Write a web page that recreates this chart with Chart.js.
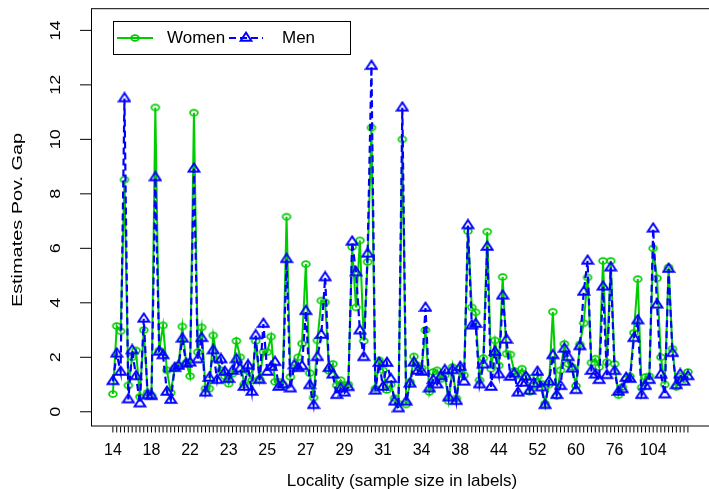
<!DOCTYPE html>
<html>
<head>
<meta charset="utf-8">
<script src="https://cdn.jsdelivr.net/npm/chart.js@4.4.1/dist/chart.umd.min.js"></script>
<style>
  html, body { margin: 0; padding: 0; background: #fff; overflow: hidden; }
  #wrap { width: 720px; height: 489px; }
</style>
</head>
<body>
<div id="wrap"><canvas id="myChart" width="720" height="489"></canvas></div>
<script>
// sample size labels, shown on every 10th locality
const localityLabels = ['14', '18', '22', '23', '25', '27', '29', '31', '34', '38', '44', '52', '60', '76', '104'];
const labelEvery = 10;
const yTicks = [0, 2, 4, 6, 8, 10, 12, 14];

const women = [0.65, 3.15, 2.96, 8.52, 0.97, 2.0, 2.25, 0.55, 3.0, 0.7,
  0.6, 11.17, 2.25, 3.17, 1.52, 0.7, 1.6, 1.7, 3.13, 1.8,
  1.31, 10.98, 2.19, 3.1, 0.85, 0.85, 2.8, 1.9, 1.52, 1.3,
  1.03, 1.4, 2.6, 2.0, 1.0, 1.5, 1.15, 2.6, 1.2, 2.19,
  2.19, 2.76, 1.1, 1.1, 1.0, 7.16, 1.28, 1.6, 2.0, 2.5,
  5.42, 1.42, 0.52, 2.62, 4.08, 4.02, 1.5, 1.76, 0.97, 1.16,
  0.97, 1.0, 6.05, 3.83, 6.29, 2.6, 5.5, 10.43, 0.85, 1.89,
  1.52, 0.8, 1.0, 0.5, 0.3, 10.0, 0.27, 1.1, 2.03, 1.7,
  1.6, 3.0, 0.73, 1.46, 1.52, 1.2, 1.34, 0.39, 1.64, 0.49,
  1.58, 1.34, 6.63, 3.83, 3.65, 1.16, 1.97, 6.61, 1.58, 2.62,
  1.7, 4.95, 2.13, 2.1, 1.5, 1.34, 1.58, 1.3, 0.73, 0.97,
  1.28, 1.03, 0.3, 1.0, 3.67, 0.58, 1.52, 2.49, 1.76, 1.64,
  0.95, 2.47, 3.25, 4.93, 1.8, 1.95, 1.64, 5.54, 1.82, 5.54,
  1.76, 0.61, 0.91, 1.2, 1.3, 2.9, 4.87, 0.89, 1.28, 1.3,
  6.0, 4.9, 2.0, 1.0, 5.3, 2.31, 0.91, 1.3, 1.2, 1.46];

const men = [1.12, 2.13, 1.46, 11.5, 0.45, 2.25, 1.3, 0.3, 3.41, 0.6,
  0.57, 8.6, 2.2, 2.07, 0.73, 0.43, 1.6, 1.68, 2.68, 1.76,
  1.8, 8.92, 1.92, 2.7, 0.7, 1.24, 2.25, 1.16, 1.92, 1.46,
  1.2, 1.5, 1.92, 1.58, 0.91, 1.7, 0.73, 2.8, 1.16, 3.22,
  1.46, 1.64, 1.82, 0.91, 1.0, 5.6, 0.85, 1.7, 1.6, 1.67,
  3.69, 0.97, 0.24, 2.0, 2.82, 4.93, 1.6, 1.36, 0.61, 0.85,
  0.7, 0.9, 6.24, 5.11, 2.98, 2.0, 5.8, 12.69, 0.77, 1.79,
  0.91, 1.79, 1.2, 0.37, 0.12, 11.16, 0.37, 1.03, 1.8, 1.5,
  1.46, 3.81, 0.85, 1.16, 1.0, 1.3, 1.52, 0.52, 1.52, 0.39,
  1.64, 1.1, 6.84, 3.16, 3.22, 1.0, 1.73, 6.05, 0.91, 2.19,
  1.37, 4.26, 2.64, 1.28, 1.4, 0.7, 1.06, 1.28, 0.77, 1.03,
  1.46, 0.89, 0.24, 1.1, 2.07, 0.61, 0.94, 2.31, 2.0, 1.58,
  0.79, 2.4, 4.4, 5.54, 1.5, 1.36, 1.16, 4.59, 1.34, 5.29,
  1.49, 0.73, 0.82, 1.24, 1.2, 2.7, 3.35, 0.61, 0.94, 1.16,
  6.72, 3.93, 1.36, 0.63, 5.24, 2.15, 0.97, 1.37, 1.1, 1.3];

const GREEN = '#00cd00';
const BLUE = '#0000ff';
const FONT = '"Liberation Sans", Arial, Helvetica, sans-serif';

// open marker images (R pch 1 / pch 2 look)
function circleMarker(color) {
  const c = document.createElement('canvas');
  c.width = 12; c.height = 10;
  const g = c.getContext('2d');
  g.strokeStyle = color;
  g.lineWidth = 1.7;
  g.beginPath();
  g.ellipse(6, 5, 3.9, 2.9, 0, 0, Math.PI * 2);
  g.stroke();
  return c;
}

function triangleMarker(color) {
  const c = document.createElement('canvas');
  c.width = 14; c.height = 14;
  const g = c.getContext('2d');
  g.strokeStyle = color;
  g.lineWidth = 1.9;
  g.beginPath();
  g.moveTo(7, 1.6);
  g.lineTo(12.4, 9.7);
  g.lineTo(1.6, 9.7);
  g.closePath();
  g.stroke();
  return c;
}

const circ = circleMarker(GREEN);
const tri = triangleMarker(BLUE);

const rAxes = {
  id: 'rAxes',
  afterDraw(chart) {
    const ctx = chart.ctx;
    const xs = chart.scales.x;
    const ys = chart.scales.y;
    const a = chart.chartArea;
    ctx.save();
    ctx.strokeStyle = '#000';
    ctx.fillStyle = '#000';
    ctx.lineWidth = 1;

    // box
    ctx.strokeRect(a.left + 0.5, a.top + 0.5, a.right - a.left, a.bottom - a.top);

    // x ticks, one per locality
    ctx.beginPath();
    for (let i = 1; i <= women.length; i++) {
      const px = xs.getPixelForValue(i);
      ctx.moveTo(px, a.bottom + 1);
      ctx.lineTo(px, a.bottom + 7);
    }
    ctx.stroke();

    ctx.font = '16px ' + FONT;
    ctx.textAlign = 'center';
    ctx.textBaseline = 'middle';
    localityLabels.forEach((lab, k) => {
      ctx.fillText(lab, xs.getPixelForValue(1 + k * labelEvery), 451);
    });

    // y ticks
    ctx.beginPath();
    yTicks.forEach(v => {
      const py = ys.getPixelForValue(v);
      ctx.moveTo(80, py);
      ctx.lineTo(a.left, py);
    });
    ctx.stroke();

    ctx.font = '15px ' + FONT;
    yTicks.forEach(v => {
      const py = ys.getPixelForValue(v);
      ctx.save();
      ctx.translate(56, py);
      ctx.rotate(-Math.PI / 2);
      ctx.scale(1.2, 1);
      ctx.fillText(String(v), 0, 0);
      ctx.restore();
    });

    // axis titles
    ctx.save();
    ctx.font = '14px ' + FONT;
    ctx.translate(18, 220);
    ctx.rotate(-Math.PI / 2);
    ctx.scale(1.42, 1);
    ctx.fillText('Estimates Pov. Gap', 0, 0);
    ctx.restore();

    ctx.font = '17px ' + FONT;
    ctx.fillText('Locality (sample size in labels)', 402, 481);

    // legend
    ctx.fillStyle = '#fff';
    ctx.fillRect(113.5, 21.5, 237, 33);
    ctx.strokeStyle = '#000';
    ctx.strokeRect(113.5, 21.5, 237, 33);

    ctx.lineWidth = 2;
    ctx.strokeStyle = GREEN;
    ctx.beginPath();
    ctx.moveTo(117, 38);
    ctx.lineTo(153, 38);
    ctx.stroke();
    ctx.drawImage(circ, 135 - 6, 38 - 5);

    ctx.strokeStyle = BLUE;
    ctx.lineWidth = 2.2;
    ctx.setLineDash([7, 4]);
    ctx.beginPath();
    ctx.moveTo(229, 38);
    ctx.lineTo(263, 38);
    ctx.stroke();
    ctx.setLineDash([]);
    ctx.drawImage(tri, 246 - 7, 38 - 7);

    ctx.fillStyle = '#000';
    ctx.font = '17px ' + FONT;
    ctx.textAlign = 'left';
    ctx.fillText('Women', 167, 38);
    ctx.fillText('Men', 282, 38);
    ctx.restore();
  }
};

const ctx = document.getElementById('myChart');

new Chart(ctx, {
  type: 'line',
  data: {
    datasets: [{
      label: 'Women',
      data: women.map((v, i) => ({ x: i + 1, y: v })),
      borderColor: GREEN,
      borderWidth: 2,
      pointStyle: circ,
      pointRadius: 5,
      tension: 0,
      order: 2
    }, {
      label: 'Men',
      data: men.map((v, i) => ({ x: i + 1, y: v })),
      borderColor: BLUE,
      borderWidth: 2.2,
      borderDash: [7, 4],
      pointStyle: tri,
      pointRadius: 6,
      tension: 0,
      order: 1
    }]
  },
  options: {
    responsive: false,
    animation: false,
    devicePixelRatio: 1,
    events: [],
    layout: { padding: { left: 91, top: 6, right: 5, bottom: 63.5 } },
    scales: {
      x: { type: 'linear', min: -4.671, max: 156.19, display: false },
      y: { type: 'linear', min: -0.504, max: 14.814, display: false }
    },
    plugins: {
      legend: { display: false },
      tooltip: { enabled: false }
    }
  },
  plugins: [rAxes]
});
</script>
</body>
</html>
